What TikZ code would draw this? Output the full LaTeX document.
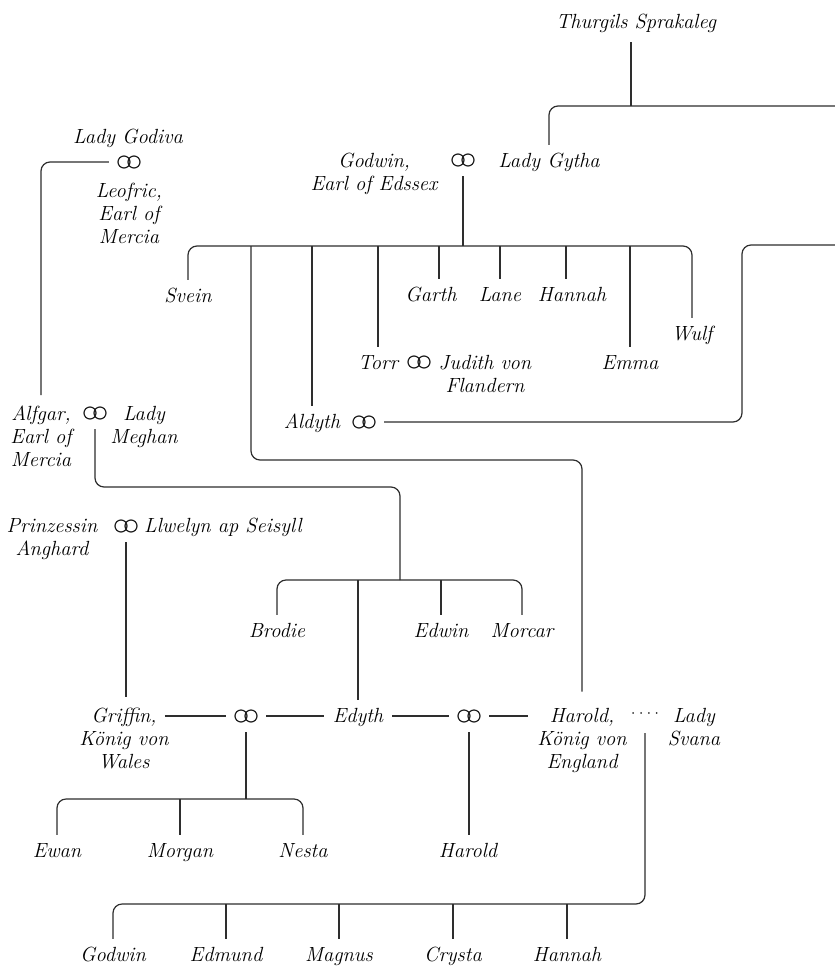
\documentclass[tikz,border=0pt]{standalone}
\usepackage{fontspec}
\usetikzlibrary{calc}
\begin{document}
\begin{tikzpicture}[x=1pt,y=-1pt,
  link/.style={draw=black!82, line width=1.2pt, rounded corners=9pt},
  % multi-line names: placed by the baseline of their last line
  person/.style={anchor=base, align=center, text=black,
    font=\fontsize{20.5}{23}\selectfont\itshape,
    inner xsep=9pt, inner ysep=10pt},
  single/.style={person, text height=12pt, text depth=4pt},
  wed/.style={minimum width=40pt, minimum height=32pt, inner sep=0pt,
    path picture={\draw[black!88, line width=1.2pt]
      ([xshift=-5pt]path picture bounding box.center) circle[radius=6pt]
      ([xshift=5pt]path picture bounding box.center) circle[radius=6pt];}},
  liaisonmark/.style={minimum height=32pt, inner sep=0pt, text=black,
    font=\fontsize{20.5}{23}\selectfont},
]
\fill[white] (0,0) rectangle (835,967);
\useasboundingbox (0,0) rectangle (835,967);

% --- people and marriages -------------------------------------------
\node[single] (thurgils) at (636,28) {Thurgils Sprakaleg};
\node[person] (godwin) at (374,190) {Godwin,\\Earl of Edssex};
\node[wed] (wGodwin) at (463,160) {};
\node[single] (gytha) at (549,167) {Lady Gytha};
\node[single] (godiva) at (128,143) {Lady Godiva};
\node[wed] (wGodiva) at (129,162) {};
\node[person] (leofric) at (129,243) {Leofric,\\Earl of\\Mercia};

\node[single] (svein) at (188,302) {Svein};
\node[single] (garth) at (431,301) {Garth};
\node[single] (lane) at (500,301) {Lane};
\node[single] (hannahA) at (572,301) {Hannah};
\node[single] (wulf) at (692,340) {Wulf};
\node[single] (torr) at (378,369) {Torr};
\node[wed] (wTorr) at (419,362) {};
\node[person] (judith) at (485,392) {Judith von\\Flandern};
\node[single] (emma) at (630,369) {Emma};
\node[single] (aldyth) at (312,428) {Aldyth};
\node[wed] (wAldyth) at (364,422) {};

\node[person] (alfgar) at (41,466) {Alfgar,\\Earl of\\Mercia};
\node[wed] (wAlfgar) at (95,413) {};
\node[person] (meghan) at (144,443) {Lady\\Meghan};
\node[single] (brodie) at (277,637) {Brodie};
\node[single] (edwin) at (441,637) {Edwin};
\node[single] (morcar) at (522,637) {Morcar};

\node[person] (anghard) at (52,555) {Prinzessin\\Anghard};
\node[wed] (wAnghard) at (126,526) {};
\node[single] (llwelyn) at (223,532) {Llwelyn ap Seisyll};

\node[person] (griffin) at (124,768) {Griffin,\\König von\\Wales};
\node[wed] (wGriffin) at (246,716) {};
\node[single] (edyth) at (358,722) {Edyth};
\node[wed] (wHarold) at (469,716) {};
\node[person] (harold) at (582,768) {Harold,\\König von\\England};
\node[liaisonmark] (liaison) at (645,717) {·\kern-7pt·\kern-7pt·\kern-7pt·};
\node[person] (svana) at (694,745) {Lady\\Svana};

\node[single] (ewan) at (57,857) {Ewan};
\node[single] (morgan) at (180,857) {Morgan};
\node[single] (nesta) at (303,857) {Nesta};
\node[single] (haroldB) at (468,857) {Harold};

\node[single] (godwinB) at (113,961) {Godwin};
\node[single] (edmund) at (226,961) {Edmund};
\node[single] (magnus) at (339,961) {Magnus};
\node[single] (crysta) at (453,961) {Crysta};
\node[single] (hannahB) at (567,961) {Hannah};

% --- junctions of the sibling bars ----------------------------------
\coordinate (tbar) at (631,106);
\coordinate (edgeA) at (835,106);
\coordinate (gbar) at (463,246);
\coordinate (hdrop) at (251,246);
\coordinate (hturn) at (582,460);
\coordinate (aturn) at (742,245);
\coordinate (edgeB) at (835,245);
\coordinate (mturn) at (400,487);
\coordinate (mbar) at (400,580);
\coordinate (wbar) at (246,799);
\coordinate (sbar) at (646,904);

% --- Thurgils and Godwin's family ------------------------------------
\draw[link] (tbar |- thurgils.south) -- (tbar);
\draw[link] (gytha.north) |- (edgeA);
\draw[link] (wGodwin.south) -- (gbar);
\draw[link] (svein.north) |- (gbar) -| (wulf.north);
\draw[link] ([xshift=8pt]garth.north |- gbar) -- ([xshift=8pt]garth.north);
\draw[link] ([xshift=-6pt]hannahA.north |- gbar) -- ([xshift=-6pt]hannahA.north);
\foreach \k in {aldyth,torr,lane,emma}
  \draw[link] (\k.north |- gbar) -- (\k.north);
\draw[link, shorten >=6pt] (hdrop) |- (hturn) -- (harold.north);
\draw[link] (wAldyth.east) -| (aturn) -- (edgeB);

% --- Mercia ----------------------------------------------------------
\draw[link] (wGodiva.west) -| (alfgar.north);
\draw[link] (wAlfgar.south) |- (mturn) -- (mbar);
\draw[link] (brodie.north) |- (mbar) -| (morcar.north);
\draw[link] (edwin.north |- mbar) -- (edwin.north);
\draw[link] (edyth.north |- mbar) -- (edyth.north);

% --- Wales and the marriages of Edyth --------------------------------
\draw[link] (wAnghard.south) -- (wAnghard.south |- griffin.north);
\draw[link, shorten <=-13pt] (griffin.east |- wGriffin.west) -- (wGriffin.west);
\draw[link] (wGriffin.east) -- (wGriffin.east -| edyth.west);
\draw[link] (edyth.east |- wHarold.west) -- (wHarold.west);
\draw[link] (wHarold.east) -- (wHarold.east -| harold.west);

\draw[link] (wGriffin.south) -- (wbar);
\draw[link] (ewan.north) |- (wbar) -| (nesta.north);
\draw[link] (morgan.north |- wbar) -- (morgan.north);
\draw[link] (wHarold.south) -- (wHarold.south |- haroldB.north);

\draw[link] (liaison.south) |- (godwinB.north |- sbar) -- (godwinB.north);
\foreach \k in {edmund,magnus,crysta,hannahB}
  \draw[link] (\k.north |- sbar) -- (\k.north);
\end{tikzpicture}
\end{document}
